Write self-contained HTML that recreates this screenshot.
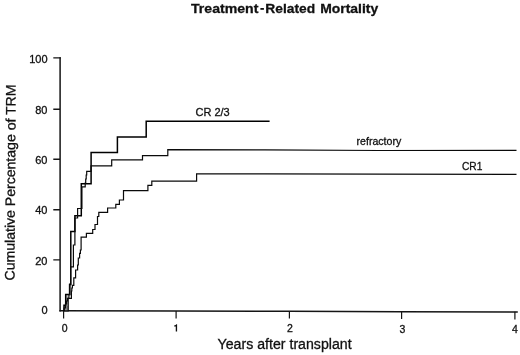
<!DOCTYPE html>
<html><head><meta charset="utf-8">
<style>
html,body{margin:0;padding:0;background:#fff;}
body{width:520px;height:355px;overflow:hidden;font-family:"Liberation Sans",sans-serif;}
svg{display:block;filter:grayscale(1);}
text{font-family:"Liberation Sans",sans-serif;fill:#111;stroke:#111;stroke-width:0.3px;}
</style></head><body>
<svg width="520" height="355" viewBox="0 0 520 355">
<rect width="520" height="355" fill="#fff"/>
<!-- title -->
<g font-size="13.5" font-weight="bold">
<text x="191" y="12.65" textLength="67.4" lengthAdjust="spacingAndGlyphs">Treatment</text>
<text x="265.3" y="12.65" textLength="49.8" lengthAdjust="spacingAndGlyphs">Related</text>
<text x="320.2" y="12.65" textLength="58" lengthAdjust="spacingAndGlyphs">Mortality</text>
</g>
<rect x="260.4" y="8" width="3.5" height="1.8" fill="#111"/>
<!-- axes -->
<g stroke="#151515" fill="none">
<path stroke-width="1.5" d="M60.1,57.2V311.5"/>
<path stroke-width="1.4" d="M59.4,310.8L176,311.05L289,311.3L400,311.8L517.8,312"/>
<path stroke-width="1.4" d="M53.3,57.85H60.8M53.3,109.3H60M53.3,159.3H60M53.3,209.8H60M53.3,259.9H60"/>
<path stroke-width="1.2" d="M63.6,311V318.5M176.1,311V318.6M289.4,311V318.6M401.6,311.5V319M514.9,311.8V319.4"/>
</g>
<!-- y labels -->
<g font-size="11" text-anchor="end">
<text x="47.5" y="62.6">100</text>
<text x="47.5" y="114.3">80</text>
<text x="47.5" y="163.9">60</text>
<text x="47.5" y="214.3">40</text>
<text x="47.5" y="264.6">20</text>
<text x="47.5" y="314.2">0</text>
</g>
<!-- x labels -->
<g font-size="10.5" text-anchor="middle" style="stroke-width:0.45px">
<text x="64.6" y="331.6">0</text>
<path d="M177.1,331.5h-1.35v-5.1h-1.6v-0.95c1.15,-0.1 1.8,-0.45 2.1,-1.2h0.85z" fill="#111" stroke="none"/>
<text x="289.8" y="331.9">2</text>
<text x="402.5" y="332.5">3</text>
<text x="515" y="332.5">4</text>
</g>
<text x="217.6" y="349.2" font-size="13.8" textLength="134" lengthAdjust="spacingAndGlyphs">Years after transplant</text>
<text transform="translate(14.4,280.5) rotate(-89.62)" font-size="13.8" textLength="196" lengthAdjust="spacingAndGlyphs">Cumulative Percentage of TRM</text>
<!-- curve labels -->
<g font-size="11">
<text x="195.5" y="116.3">CR 2/3</text>
<text x="356.5" y="145.3" textLength="44.8" lengthAdjust="spacingAndGlyphs">refractory</text>
<text x="462" y="170.3" textLength="20.4" lengthAdjust="spacingAndGlyphs">CR1</text>
</g>
<!-- curves -->
<rect x="64.2" y="305.4" width="4" height="5.2" fill="#8a8a8a"/><rect x="66" y="295.2" width="2.2" height="10.2" fill="#c4c4c4"/>
<g stroke="#0a0a0a" stroke-width="1.5" fill="none" stroke-linejoin="miter">
<path id="cr23" stroke-width="1.5" stroke="#000" d="M64,311V305.2H65.7V294.6H69.6V284.5H70.8V231.6H74.9V215.75H81.3V183.8H91.1V152.4H117.4V137H146.2V121.25H269.6"/>
<path id="refr" stroke-width="1.2" d="M64,311H68.2V298.4H68.9V294.6H69.9V284H70.6V266.9H73.4V245H74.9V218H77.6V208.5H81.9V186.8H85.2V183H85.7V179H86.2V175H86.7V171.3H91V165.9H111.7V159.8H142.5V155.7H167.8V149.6L265,149.9L380,150.5L516.5,150.4"/>
<path id="cr1" stroke-width="1.2" d="M64,311V308H65.5V304H66.6V301H67.4V298.4H71.4V291H71.8V288H72.4V285.3H73.8V277.9H75.6V270H77.6V265H78.3V258H79.6V253.4H80.4V250H81.1V237.2H86.4V233.4H92.7V229.5H95V224.5H97.5V216.5H98.8V212.3H107.6V208H115.8V204.4H119.4V200H123.5V190.6H147.9V185.3H151.8V181.2H196.6V173.8L265,173.9L380,174.2L516.5,174.3"/>
</g>
</svg>
</body></html>
